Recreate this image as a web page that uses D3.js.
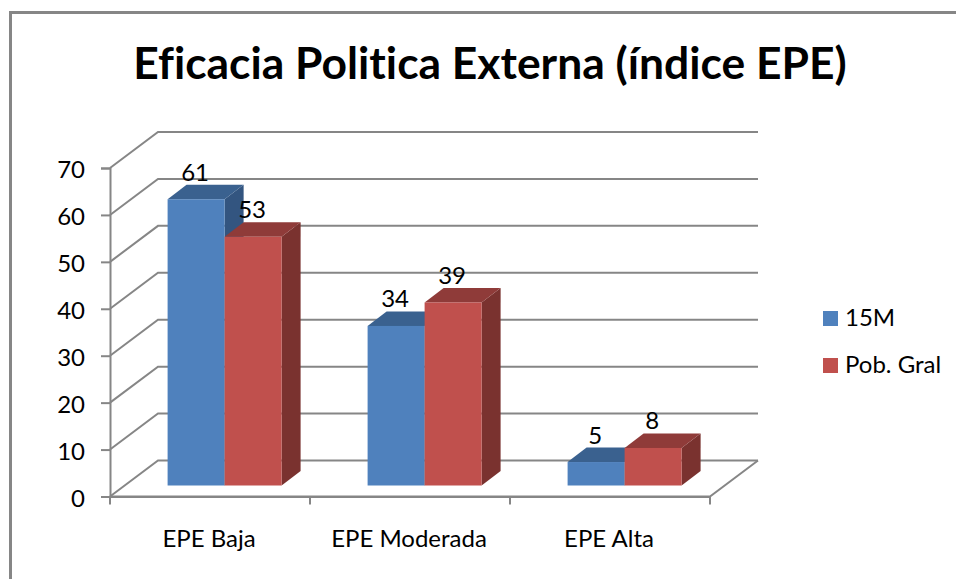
<!DOCTYPE html>
<html>
<head>
<meta charset="utf-8">
<script src="https://cdn.jsdelivr.net/npm/d3@7"></script>
<style>
body { margin: 0; background: #fff; }
text { font-family: Lato, "Open Sans", sans-serif; fill: #000; font-variant-ligatures: none; }
</style>
</head>
<body>
<div id="chart"></div>
<script>
var categories = ['EPE Baja', 'EPE Moderada', 'EPE Alta'];
var seriesNames = ['15M', 'Pob. Gral'];
var values15M = [61, 34, 5];
var valuesPob = [53, 39, 8];
var yTicks = [0, 10, 20, 30, 40, 50, 60, 70];

var faceColors = ['#4f81bd', '#c0504d'];
var topColors = ['#3a618f', '#8f3b39'];
var sideColors = ['#335580', '#7a322f'];
var axisColor = '#868686';

var svg = d3.select('#chart').append('svg').attr('width', 956).attr('height', 579);

// chart frame, open on the right and bottom like the cropped original
svg.append('path')
	.attr('d', 'M10.5,579V12.5H956')
	.attr('fill', 'none')
	.attr('stroke', axisColor)
	.attr('stroke-width', 3);

svg.append('text')
	.attr('x', 490)
	.attr('y', 79)
	.attr('text-anchor', 'middle')
	.attr('font-size', 44.4)
	.attr('font-weight', 700)
	.text('Eficacia Politica Externa (índice EPE)');

var yScale = d3.scaleLinear().domain([0, 70]).range([496.5, 168]);
var xScale = d3.scaleBand().domain(categories).range([110, 710]);

var wallX = 48, wallY = -36;   // depth of the back wall
var barX = 19, barY = -14.5;   // depth of each bar
var floorY = -11;              // bars stand inside the floor

var seriesScale = d3.scaleBand().domain([0, 1]).range([57.6, 171.6]);

// walls and gridlines
var grid = svg.append('g').attr('fill', 'none').attr('stroke', axisColor).attr('stroke-width', 2);
yTicks.forEach(function(t) {
	var y = yScale(t);
	grid.append('path')
		.attr('d', d3.line()([[110, y], [110 + wallX, y + wallY], [710 + wallX, y + wallY]]));
});
grid.append('path')
	.attr('d', d3.line()([[110, yScale(0)], [710, yScale(0)], [710 + wallX, yScale(0) + wallY]]));

var yAxis = d3.axisLeft(yScale).tickValues(yTicks).tickSize(9).tickPadding(16);
var yAxisG = svg.append('g').attr('transform', 'translate(110,0)').call(yAxis);

var xAxis = d3.axisBottom(xScale).tickSize(0).tickPadding(33.5);
var xAxisG = svg.append('g').attr('transform', 'translate(0,' + yScale(0) + ')').call(xAxis);

[yAxisG, xAxisG].forEach(function(g) {
	g.select('.domain').attr('stroke', axisColor).attr('stroke-width', 2);
	g.selectAll('line').attr('stroke', axisColor).attr('stroke-width', 2);
	g.selectAll('text').attr('font-size', 24).style('font-family', 'Lato, "Open Sans", sans-serif');
});

yAxisG.selectAll('text').attr('y', 2);
xAxisG.selectAll('text').attr('dx', -1);

// x tick marks sit between the categories
svg.append('g').selectAll('line')
	.data(categories.concat(['end']))
	.join('line')
	.attr('x1', function(d, i) { return 110 + i * xScale.step(); })
	.attr('x2', function(d, i) { return 110 + i * xScale.step(); })
	.attr('y1', yScale(0))
	.attr('y2', yScale(0) + 8)
	.attr('stroke', axisColor)
	.attr('stroke-width', 2);

// the bars, back to front, left to right
var baseY = yScale(0) + floorY;
[values15M, valuesPob].forEach(function(vals, s) {
	categories.forEach(function(c, i) {
		var x0 = xScale(c) + seriesScale(s);
		var x1 = x0 + seriesScale.bandwidth();
		var yTop = yScale(vals[i]) + floorY;
		var g = svg.append('g').attr('class', 'bar');

		g.append('path')
			.attr('d', d3.line()([[x1, baseY], [x1 + barX, baseY + barY], [x1 + barX, yTop + barY], [x1, yTop]]))
			.attr('fill', sideColors[s]);
		g.append('path')
			.attr('d', d3.line()([[x0, yTop], [x0 + barX, yTop + barY], [x1 + barX, yTop + barY], [x1, yTop]]))
			.attr('fill', topColors[s]);
		g.append('rect')
			.attr('x', x0)
			.attr('y', yTop)
			.attr('width', x1 - x0)
			.attr('height', baseY - yTop)
			.attr('fill', faceColors[s]);
	});
});

// value labels go on top of everything
[values15M, valuesPob].forEach(function(vals, s) {
	categories.forEach(function(c, i) {
		svg.append('text')
			.attr('x', xScale(c) + seriesScale(s) + seriesScale.bandwidth() / 2 - 1)
			.attr('y', yScale(vals[i]) + floorY + barY - 4)
			.attr('text-anchor', 'middle')
			.attr('font-size', 24)
			.text(vals[i]);
	});
});

// legend
var legend = svg.selectAll('.legend')
	.data(seriesNames)
	.join('g')
	.attr('class', 'legend')
	.attr('transform', function(d, i) { return 'translate(823,' + (311 + i * 47) + ')'; });
legend.append('rect')
	.attr('width', 15)
	.attr('height', 15)
	.attr('fill', function(d, i) { return faceColors[i]; });
legend.append('text')
	.attr('x', 22)
	.attr('y', 15)
	.attr('font-size', 24)
	.text(function(d) { return d; });
</script>
</body>
</html>
